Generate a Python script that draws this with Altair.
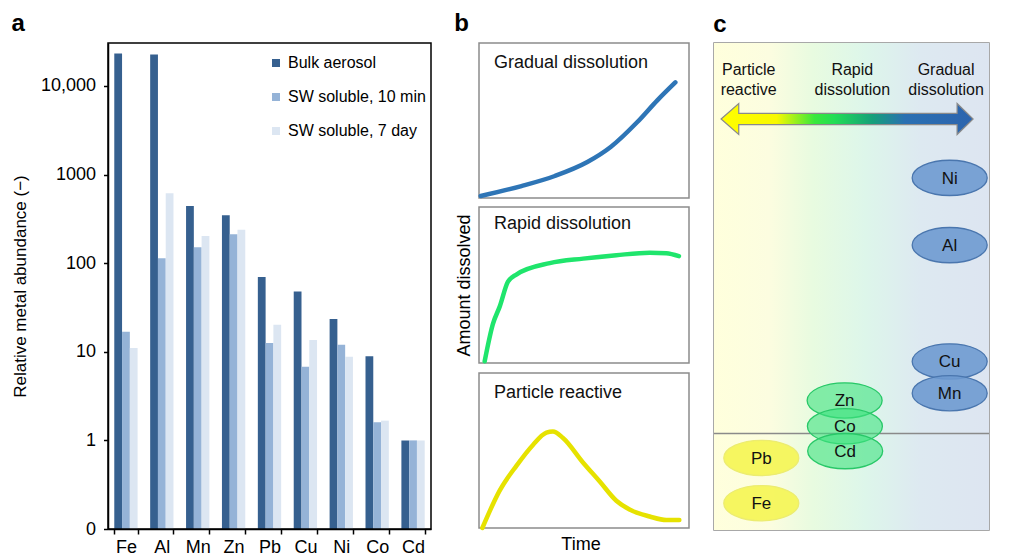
import altair as alt
import pandas as pd

FONT = "Liberation Sans"

# ---------------- panel a data ----------------
metals = ["Fe", "Al", "Mn", "Zn", "Pb", "Cu", "Ni", "Co", "Cd"]
series = ["Bulk aerosol", "SW soluble, 10 min", "SW soluble, 7 day"]
bulk = [23200, 22600, 443, 348, 70, 48, 23.4, 8.9, 1.0]
sw_10min = [16.8, 114, 151, 212, 12.6, 6.8, 12.0, 1.6, 1.0]
sw_7day = [11.0, 615, 203, 238, 20.2, 13.6, 8.8, 1.67, 1.0]
bar_colors = ["#36608f", "#95b3d7", "#dce6f2"]
y_ticks = [0.1, 1, 10, 100, 1000, 10000]
y_floor = 0.1

# ---------------- panel b data ----------------
t_grad = [0.008, 0.202, 0.361, 0.516, 0.627, 0.754, 0.849, 0.935]
a_grad = [0.013, 0.077, 0.142, 0.232, 0.329, 0.490, 0.630, 0.746]
t_rapid = [0.027, 0.066, 0.099, 0.138, 0.178, 0.337, 0.496, 0.654, 0.813, 0.892, 0.952]
a_rapid = [0.011, 0.249, 0.363, 0.521, 0.567, 0.640, 0.669, 0.691, 0.707, 0.703, 0.685]
t_react = [0.016, 0.099, 0.178, 0.257, 0.321, 0.352, 0.400, 0.495, 0.575, 0.654, 0.717, 0.813, 0.892, 0.954]
a_react = [0.0, 0.243, 0.401, 0.536, 0.615, 0.622, 0.581, 0.423, 0.300, 0.176, 0.119, 0.074, 0.051, 0.051]

# ---------------- panel c data ----------------
c_metals = ["Ni", "Al", "Cu", "Mn", "Zn", "Co", "Cd", "Pb", "Fe"]
c_class = ["gradual", "gradual", "gradual", "gradual", "rapid", "rapid", "rapid", "reactive", "reactive"]
c_x = [0.857, 0.857, 0.857, 0.857, 0.475, 0.476, 0.477, 0.172, 0.172]
c_change = [0.723, 0.585, 0.346, 0.281, 0.266, 0.213, 0.162, 0.148, 0.055]
class_names = ["reactive", "rapid", "gradual"]
class_fill = ["#f4f44a", "#3ee27f", "#6e9ad0"]
class_stroke = ["#ecec70", "#28c868", "#4a76ae"]
class_opacity = [0.85, 0.6, 0.9]
head_top = ["Particle", "Rapid", "Gradual"]
head_bottom = ["reactive", "dissolution", "dissolution"]
head_x = [0.126, 0.503, 0.844]
head_y_top = [0.934, 0.934, 0.934]
head_y_bottom = [0.894, 0.894, 0.894]
zero_line = [0.198]
arrow_pos = [0.484, 0.844]

TITLE_OFFSET = 6

def panel_title(letter):
    return alt.TitleParams(letter, anchor="start", frame="bounds", fontSize=24,
                           fontWeight="bold", offset=TITLE_OFFSET, color="black")

# ================= panel a =================
rows = []
for i, m in enumerate(metals):
    for s, vals in zip(series, [bulk, sw_10min, sw_7day]):
        rows.append({"metal": m, "series": s, "value": vals[i], "base": y_floor})
df_a = pd.DataFrame(rows)

A_W, A_H = 323, 486

bars = alt.Chart(df_a).mark_bar().encode(
    x=alt.X("metal:N", sort=metals,
            scale=alt.Scale(paddingInner=0.35, paddingOuter=0.175),
            axis=alt.Axis(title=None, labelAngle=0, labelFontSize=18, tickBand="extent",
                          tickSize=5, labelPadding=4, domainColor="black", tickColor="black",
                          tickWidth=1.5, domainWidth=1.5, labelColor="black", grid=False)),
    xOffset=alt.XOffset("series:N", sort=series, scale=alt.Scale(paddingInner=0, paddingOuter=0)),
    y=alt.Y("value:Q",
            scale=alt.Scale(type="log", domain=[0.1, 30550], nice=False),
            axis=alt.Axis(values=y_ticks,
                          labelExpr="datum.value < 0.5 ? '0' : (datum.value >= 10000 ? format(datum.value, ',') : format(datum.value, 'd'))",
                          title="Relative metal abundance (\u2212)", titleFontSize=17,
                          titleFontWeight="normal", titleColor="black", titlePadding=11,
                          labelFontSize=18, labelColor="black", labelPadding=8, tickSize=4.5,
                          tickColor="black", domainColor="black", tickWidth=1.5,
                          domainWidth=1.5, grid=False)),
    y2=alt.Y2("base:Q"),
    color=alt.Color("series:N", sort=series,
                    scale=alt.Scale(domain=series, range=bar_colors),
                    legend=alt.Legend(orient="none", legendX=160, legendY=12, title=None,
                                      symbolType="square", symbolSize=64, labelFontSize=16,
                                      rowPadding=18, labelOffset=4, symbolStrokeWidth=0,
                                      labelColor="black", labelLimit=300)),
)
frame_a = alt.Chart(pd.DataFrame({"k": [0]})).mark_rect(
    filled=False, color="black", strokeWidth=1.5
).encode(x=alt.value(0), x2=alt.value(A_W), y=alt.value(0), y2=alt.value(A_H))

panel_a = alt.layer(bars, frame_a).properties(
    width=A_W, height=A_H,
    title=panel_title("a"),
)

# ================= panel b =================
def curve_panel(t, a, color, label, label_y, h, ytitle=None):
    df = pd.DataFrame({"t": t, "a": a})
    if ytitle:
        yaxis = alt.Axis(title=ytitle, labels=False, ticks=False, domain=False, grid=False,
                         titlePadding=6, titleFontSize=18, titleFontWeight="normal",
                         titleColor="black")
    else:
        yaxis = None
    line = alt.Chart(df).mark_line(color=color, strokeWidth=4.5, interpolate="monotone",
                                   strokeCap="round").encode(
        x=alt.X("t:Q", scale=alt.Scale(domain=[0, 1]), axis=None),
        y=alt.Y("a:Q", scale=alt.Scale(domain=[0, 1]), axis=yaxis),
    )
    txt = alt.Chart(pd.DataFrame({"label": [label]})).mark_text(
        align="left", baseline="alphabetic", fontSize=18, color="#111111"
    ).encode(x=alt.value(15), y=alt.value(label_y), text="label:N")
    return alt.layer(line, txt).properties(
        width=210, height=h,
        view=alt.ViewBackground(stroke="#8c8c8c", strokeWidth=1.5),
    )

b1 = curve_panel(t_grad, a_grad, "#2e75b6", "Gradual dissolution", 25, 155)
b2 = curve_panel(t_rapid, a_rapid, "#1fe56c", "Rapid dissolution", 22, 156, ytitle="Amount dissolved")
b3 = curve_panel(t_react, a_react, "#e6e200", "Particle reactive", 25, 155)

b_inner = alt.vconcat(b1, b2, b3, spacing=0).properties(
    title=alt.TitleParams("Time", orient="bottom", anchor="middle", frame="bounds",
                          fontSize=18, fontWeight="normal", offset=-2, dx=9, color="black")
)
panel_b = alt.vconcat(b_inner).properties(title=panel_title("b"))

# ================= panel c =================
xs = alt.Scale(domain=[0, 1])
ys = alt.Scale(domain=[0, 1])

bg_grad = alt.LinearGradient(
    gradient="linear", x1=0, x2=1, y1=0, y2=0,
    stops=[alt.GradientStop(color="#ffffdc", offset=0),
           alt.GradientStop(color="#fcfde0", offset=0.2),
           alt.GradientStop(color="#e8fbe0", offset=0.36),
           alt.GradientStop(color="#ddf6ea", offset=0.55),
           alt.GradientStop(color="#dde9f1", offset=0.75),
           alt.GradientStop(color="#dde5f1", offset=1)],
)
arrow_grad = alt.LinearGradient(
    gradient="linear", x1=0, x2=1, y1=0, y2=0,
    stops=[alt.GradientStop(color="#ffff00", offset=0),
           alt.GradientStop(color="#f8f800", offset=0.22),
           alt.GradientStop(color="#3ae83c", offset=0.37),
           alt.GradientStop(color="#22dd55", offset=0.45),
           alt.GradientStop(color="#15a07a", offset=0.6),
           alt.GradientStop(color="#2a70b2", offset=0.73),
           alt.GradientStop(color="#2c64ae", offset=1)],
)

bg = alt.Chart(pd.DataFrame({"x0": [0], "x1": [1], "y0": [0], "y1": [1]})).mark_rect(
    fill=bg_grad
).encode(
    x=alt.X("x0:Q", scale=xs, axis=None), x2="x1:Q",
    y=alt.Y("y0:Q", scale=ys, axis=None), y2="y1:Q",
)

rule = alt.Chart(pd.DataFrame({"y": zero_line})).mark_rule(color="#8a8a8a", strokeWidth=1.5).encode(
    y=alt.Y("y:Q", scale=ys, axis=None)
)

arrow_path = ("M -1 0 L -0.86 -0.123 L -0.86 -0.045 L 0.873 -0.045 L 0.873 -0.123 L 1 0 "
              "L 0.873 0.123 L 0.873 0.045 L -0.86 0.045 L -0.86 0.123 Z")
arrow = alt.Chart(pd.DataFrame({"x": [arrow_pos[0]], "y": [arrow_pos[1]]})).mark_point(
    shape=arrow_path, size=252 * 252, filled=True, fill=arrow_grad, stroke="#8a8a8a",
    strokeWidth=1.2, opacity=1
).encode(
    x=alt.X("x:Q", scale=xs, axis=None),
    y=alt.Y("y:Q", scale=ys, axis=None),
)

df_c = pd.DataFrame({"metal": c_metals, "cls": c_class, "x": c_x, "y": c_change,
                     "order": list(range(len(c_metals)))})
fill_map = dict(zip(class_names, class_fill))
stroke_map = dict(zip(class_names, class_stroke))
op_map = dict(zip(class_names, class_opacity))
df_c["fill"] = df_c["cls"].map(fill_map)
df_c["stroke"] = df_c["cls"].map(stroke_map)
df_c["op"] = df_c["cls"].map(op_map)

ellipse_path = "M -1 0 A 1 0.47 0 1 1 1 0 A 1 0.47 0 1 1 -1 0 Z"
ellipses = alt.Chart(df_c).mark_point(
    shape=ellipse_path, size=75 * 75, filled=True, strokeWidth=1.3, opacity=1
).encode(
    x=alt.X("x:Q", scale=xs, axis=None),
    y=alt.Y("y:Q", scale=ys,
            axis=alt.Axis(orient="right", title="Percent change in dissolved [Me] over time",
                          labels=False, ticks=False, domain=False, grid=False,
                          titleFontSize=17, titleFontWeight="normal", titleColor="black",
                          titlePadding=2, titleAngle=90)),
    fill=alt.Fill("fill:N", scale=None),
    stroke=alt.Stroke("stroke:N", scale=None),
    fillOpacity=alt.FillOpacity("op:Q", scale=None),
    order=alt.Order("order:Q"),
)
ell_text = alt.Chart(df_c).mark_text(fontSize=17, baseline="middle", color="#111111", dy=1).encode(
    x=alt.X("x:Q", scale=xs, axis=None),
    y=alt.Y("y:Q", scale=ys, axis=None),
    text="metal:N",
)

df_h = pd.DataFrame({"x": head_x, "yt": head_y_top, "yb": head_y_bottom,
                     "top": head_top, "bottom": head_bottom})
h1 = alt.Chart(df_h).mark_text(fontSize=16, baseline="alphabetic", color="#111111").encode(
    x=alt.X("x:Q", scale=xs, axis=None), y=alt.Y("yt:Q", scale=ys, axis=None), text="top:N")
h2 = alt.Chart(df_h).mark_text(fontSize=16, baseline="alphabetic", color="#111111").encode(
    x=alt.X("x:Q", scale=xs, axis=None), y=alt.Y("yb:Q", scale=ys, axis=None), text="bottom:N")

panel_c = alt.layer(bg, rule, arrow, ellipses, ell_text, h1, h2).properties(
    width=275, height=487,
    title=panel_title("c"),
    view=alt.ViewBackground(stroke="#8c8c8c", strokeWidth=1.5),
)

chart = alt.hconcat(panel_a, panel_b, panel_c, spacing=22).properties(
    padding={"left": 3, "top": 4, "right": 0, "bottom": 0}
).configure(
    font=FONT,
).configure_view(stroke=None
).configure_axis(labelFont=FONT, titleFont=FONT).configure_title(font=FONT)

chart.save("out.html", embed_options={"renderer": "svg", "actions": False})
